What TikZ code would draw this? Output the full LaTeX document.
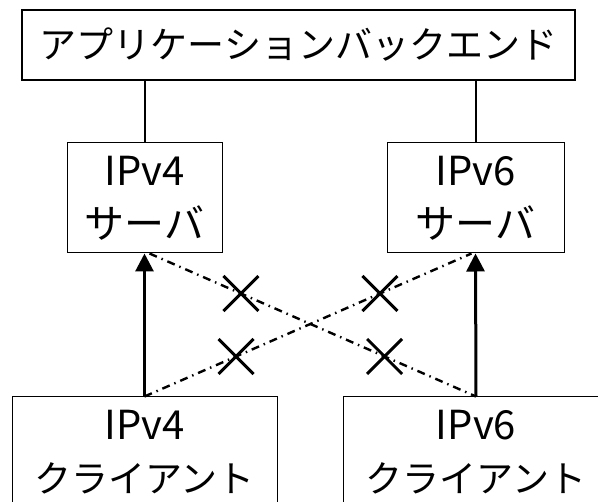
\documentclass[tikz,border=0pt]{standalone}
\usepackage{fontspec}
\setmainfont{Noto Sans CJK JP}
\usetikzlibrary{arrows.meta}
\usetikzlibrary{shapes.misc}
\newcommand{\kanasmall}[1]{{\fontsize{37}{53}\selectfont #1}}
\tikzset{
box/.style={
  align=center,
  draw=black,
  line width=1pt,
  inner sep=0pt,
  minimum height=110pt
  }
}
\tikzset{
xmark/.style={
  cross out,
  draw=black,
  solid,
  line width=3pt,
  inner sep=0pt,
  minimum size=32pt
  }
}
\tikzstyle{link} = [draw,line width=2pt]
\tikzstyle{flow} = [draw,line width=3pt,-{Triangle[width=18pt,length=18pt]}]
\tikzstyle{blocked} = [draw,line width=2.4pt,dash pattern=on 8pt off 5pt on 1.5pt off 5pt]
\tikzset{%
    boundingBox/.style={use as bounding box},
    }

\begin{document}
\begin{tikzpicture}[x=1pt, y=-1pt, font=\fontsize{40}{53}\selectfont]
	\path[boundingBox] (0,0) rectangle (598,502);

	%vertices
	\node (app) at (298.5,45) [box, line width=2pt, minimum width=553pt, minimum height=70pt] {\kanasmall{アプリケーションバックエンド}};

	\node (srv4) at (144.5,198) [box, minimum width=155pt] {IPv4\\サーバ};
	\node (srv6) at (475.5,198) [box, minimum width=177pt] {IPv6\\サーバ};

	\node (cli4) at (144.5,452) [box, minimum width=265pt] {IPv4\\\kanasmall{クライアント}};
	\node (cli6) at (476,452) [box, minimum width=266pt] {IPv6\\\kanasmall{クライアント}};

	%edges
	\draw[link] (srv4.north) -- (srv4.north |- app.south);
	\draw[link] (srv6.north) -- (srv6.north |- app.south);

	\draw[flow] (cli4.north) -- (srv4.south);
	\draw[flow] (cli6.north) -- (srv6.south);

	\draw[blocked] ([xshift=5pt]srv4.south) -- node[pos=.28, xmark] (x1) {} node[pos=.72, xmark] (x2) {} (cli6.north);
	\draw[blocked] (cli4.north) -- node[pos=.28, xmark] (x3) {} node[pos=.72, xmark] (x4) {} ([xshift=-4pt]srv6.south);
\end{tikzpicture}
\end{document}
